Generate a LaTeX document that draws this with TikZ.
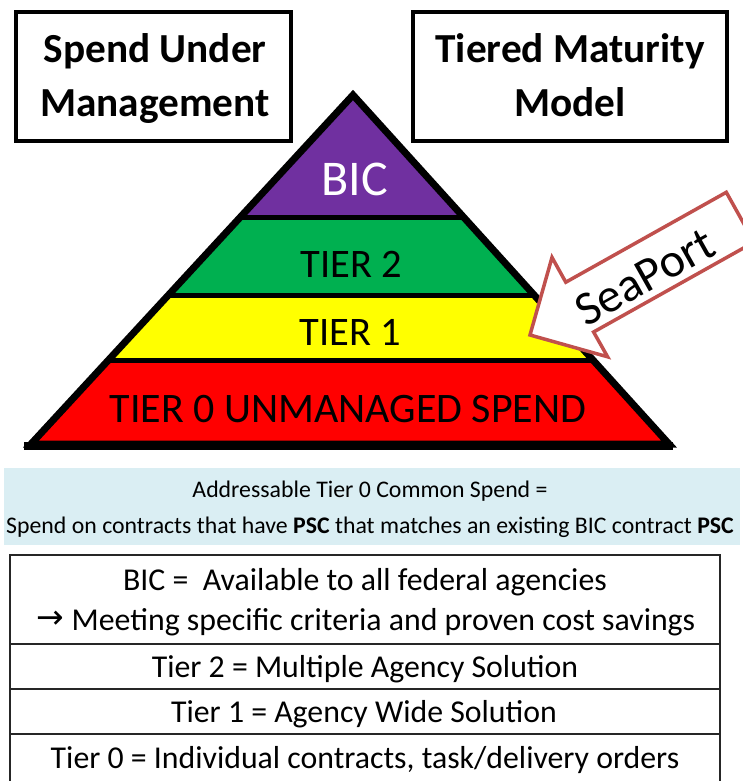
\documentclass[tikz,border=0pt]{standalone}
\usepackage{fontspec}
\setmainfont{Carlito}
\newfontfamily\symfont{DejaVu Sans}
\definecolor{bicpurple}{HTML}{7030A0}
\definecolor{tiergreen}{HTML}{00B050}
\definecolor{tieryellow}{HTML}{FFFF00}
\definecolor{tierred}{HTML}{FF0000}
\definecolor{lightblue}{HTML}{DAEEF3}
\definecolor{arrowred}{HTML}{C0504D}
\newcommand{\fs}[1]{\fontsize{#1}{#1}\selectfont}
\begin{document}
\begin{tikzpicture}[x=1pt,y=-1pt,
  titlebox/.style={draw=black,line width=3.5pt,fill=white},
  tiertext/.style={anchor=base,inner sep=0pt,font=\fs{40.5}},
  boxtext/.style={anchor=base,inner sep=0pt,font=\fs{41.3}\bfseries},
  rowtext/.style={anchor=base,inner sep=0pt,font=\fs{31.8}},
  bluetext/.style={anchor=base,inner sep=0pt,font=\fs{23.8}},
  rowline/.style={draw=black!85,line width=1.3pt}]
\useasboundingbox (0,0) rectangle (743,781);
\clip (0,0) rectangle (743,781);
% title boxes
\draw[titlebox] (16,12) rectangle (291,141);
\node[boxtext] (sum1) at (155,63) {Spend Under};
\node[boxtext] (sum2) at (155,117) {Management};
\draw[titlebox] (413,12) rectangle (727,141);
\node[boxtext] (tmm1) at (570,63) {Tiered Maturity};
\node[boxtext] (tmm2) at (570,117) {Model};
% pyramid
\coordinate (apex) at (353,95);
\coordinate (bl) at (31,444);
\coordinate (br) at (669,444);
\begin{scope}
  \clip (apex) -- (br) -- (bl) -- cycle;
  \fill[bicpurple] (0,0) rectangle (743,217);
  \fill[tiergreen] (0,217) rectangle (743,295);
  \fill[tieryellow] (0,295) rectangle (743,360);
  \fill[tierred] (0,360) rectangle (743,450);
  \draw[black,line width=5pt] (0,217) -- (743,217);
  \draw[black,line width=5pt] (0,295) -- (743,295);
  \draw[black,line width=5pt] (0,360) -- (743,360);
\end{scope}
\draw[black,line width=7pt,line join=miter] (apex) -- (br) -- (bl) -- cycle;
\draw[black,line width=8pt] (24,446) -- (673,446);
\node[tiertext,font=\fs{50},text=white] (bic) at (355,195) {BIC};
\node[tiertext] (t2) at (351,277) {TIER 2};
\node[tiertext] (t1) at (350,345) {TIER 1};
\node[tiertext,font=\fs{42}] (t0) at (348,422) {TIER 0 UNMANAGED SPEND};
% SeaPort arrow
\draw[arrowred,line width=3.5pt,fill=white,line join=miter]
  (530,335) -- (552,257.4) -- (565.8,282.2) -- (726.3,192.3) -- (754.1,242.1)
  -- (593.6,332) -- (607.6,356.8) -- cycle;
\node[inner sep=0pt,rotate=29.3,font=\fs{48}] (sea) at (645,277) {SeaPort};
% blue box
\fill[lightblue] (4,468) rectangle (740,545);
\node[bluetext] (b1) at (370,497) {Addressable Tier 0 Common Spend =};
\node[bluetext] (b2) at (370,533) {Spend on contracts that have \textbf{PSC} that matches an existing BIC contract \textbf{PSC}};
% table
\draw[rowline] (10,781) -- (10,555) -- (720,555) -- (720,781);
\draw[rowline] (10,644) -- (720,644);
\draw[rowline] (10,689) -- (720,689);
\draw[rowline] (10,734) -- (720,734);
\node[rowtext] (r1a) at (365,590) {BIC = \ Available to all federal agencies};
\node[rowtext] (r1b) at (366,630) {{\symfont\fs{33}\raisebox{1.5pt}{→}} Meeting specific criteria and proven cost savings};
\node[rowtext] (r2) at (365,677) {Tier 2 = Multiple Agency Solution};
\node[rowtext] (r3) at (364,722) {Tier 1 = Agency Wide Solution};
\node[rowtext] (r4) at (365,768) {Tier 0 = Individual contracts, task/delivery orders};
\end{tikzpicture}
\end{document}
